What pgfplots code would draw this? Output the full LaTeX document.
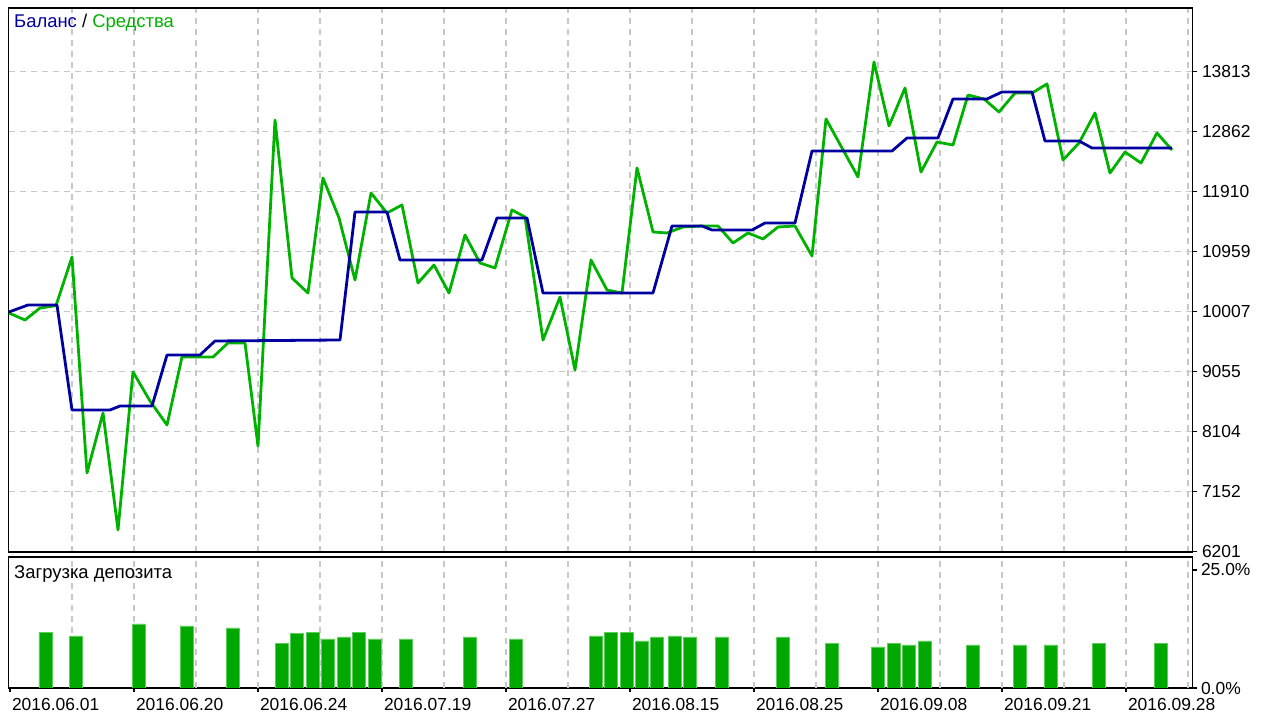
\documentclass[border=0pt]{standalone}
\usepackage{fontspec}
\setmainfont{Liberation Sans}
\usepackage{pgfplots}
\pgfplotsset{compat=1.18}

\definecolor{mtblue}{RGB}{0,0,160}
\definecolor{mtgreen}{RGB}{0,178,0}
\definecolor{barfill}{RGB}{0,168,0}
\definecolor{baredge}{RGB}{90,205,90}
\definecolor{gridc}{RGB}{200,200,200}

% x = position along the tester graph (trade sequence), y = account value
\pgfplotstableread{
x y
9 9983
25 9872
40 10062
56 10100
72 10871
87 7446
103 8397
118 6542
133 9048
150 8588
167 8207
182 9285
198 9285
213 9285
228 9507
245 9507
258 7874
275 13044
292 10538
308 10300
323 12124
339 11490
355 10506
371 11886
387 11569
402 11696
418 10459
434 10744
449 10300
465 11220
480 10776
495 10697
512 11617
525 11506
543 9555
560 10237
575 9079
591 10824
607 10348
622 10300
637 12283
653 11268
667 11252
683 11347
702 11363
718 11363
733 11093
748 11252
763 11157
778 11347
795 11363
812 10887
826 13060
858 12140
874 13964
889 12949
905 13551
921 12219
937 12695
953 12647
968 13440
984 13377
999 13171
1015 13472
1032 13472
1047 13615
1063 12409
1079 12679
1095 13155
1110 12203
1125 12536
1141 12362
1157 12838
1172 12568
}\equity

\pgfplotstableread{
x y
9 9999
28 10110
57 10110
72 8445
110 8445
120 8508
152 8508
167 9317
200 9317
215 9539
340 9555
355 11585
387 11585
400 10824
482 10824
497 11490
527 11490
543 10300
653 10300
672 11363
702 11363
712 11299
752 11299
765 11410
795 11410
812 12552
892 12552
907 12758
938 12758
953 13377
987 13377
1002 13488
1032 13488
1045 12711
1079 12711
1092 12600
1172 12600
}\balance

\pgfplotstableread{
x load
45.5 11.86
76 11.02
138.5 13.56
186.5 13.14
233 12.71
281.5 9.53
297 11.65
313 11.86
328 10.38
344 10.81
359 11.86
375 10.38
405.5 10.38
469.5 10.81
516 10.38
595.5 11.02
611 11.86
626.5 11.86
642 9.96
657 10.81
675 11.02
690 10.81
721.5 10.81
783 10.81
831.5 9.53
878 8.69
893.5 9.53
909 9.11
924.5 9.96
973 9.11
1019.5 9.11
1050.5 9.11
1099 9.53
1160.5 9.53
}\load

\begin{document}
\begin{tikzpicture}
\path[use as bounding box] (0,0) rectangle (1280bp,720bp);
\pgfplotsset{
  mt/.style={
    scale only axis, anchor=south west,
    xmin=8.5, xmax=1192.5,
    axis line style={line width=1.6bp, black},
    grid style={color=gridc, line width=1.5bp, dash pattern=on 6bp off 5bp},
    tick style={black, line width=1.2bp},
    tick align=outside, major tick length=4bp,
    ytick pos=right, yticklabel pos=right,
    tick label style={font=\fontsize{17.5}{20}\selectfont},
    yticklabel style={anchor=west, xshift=2bp},
    /pgf/number format/assume math mode=true,
  }
}
% balance / equity panel
\begin{axis}[mt,
  at={(8.5bp,168bp)}, width=1184bp, height=544bp,
  ymin=6193, ymax=14820,
  xtick={72,134,...,1188}, xticklabels={}, xmajorgrids,
  x tick style={draw=none},
  ytick={6201,7152,8104,9055,10007,10959,11910,12862,13813},
  yticklabels={6201,7152,8104,9055,10007,10959,11910,12862,13813},
  ymajorgrids,
]
\addplot[mtgreen, line width=2.8bp, line join=round] table[x=x,y=y] {\equity};
\addplot[mtblue, line width=2.8bp, line join=round] table[x=x,y=y] {\balance};
\end{axis}

% deposit load panel
\begin{axis}[mt,
  at={(8.5bp,32bp)}, width=1184bp, height=131bp,
  ymin=0, ymax=27.75,
  xtick={10,134,...,1126},
  xticklabels={2016.06.01,2016.06.20,2016.06.24,2016.07.19,2016.07.27,2016.08.15,2016.08.25,2016.09.08,2016.09.21,2016.09.28},
  xtick pos=bottom,
  xticklabel style={anchor=north west, xshift=-1.5bp, yshift=-3bp},
  extra x ticks={72,134,...,1188}, extra x tick labels={},
  extra x tick style={grid=major, major tick length=0pt},
  ytick={0,25}, yticklabels={0.0\%,25.0\%},
  yticklabel style={xshift=-1bp},
]
\addplot[ybar, bar width=13bp, fill=barfill, draw=baredge, line width=0.6bp] table[x=x,y=load] {\load};
\end{axis}

\node[anchor=west, font=\fontsize{18.5}{21}\selectfont, inner sep=0pt] at (14bp,697bp)
  {\textcolor{mtblue}{Баланс} / \textcolor{mtgreen}{Средства}};
\node[anchor=west, font=\fontsize{18.5}{21}\selectfont, inner sep=0pt] at (14bp,146bp)
  {Загрузка депозита};
\end{tikzpicture}
\end{document}
